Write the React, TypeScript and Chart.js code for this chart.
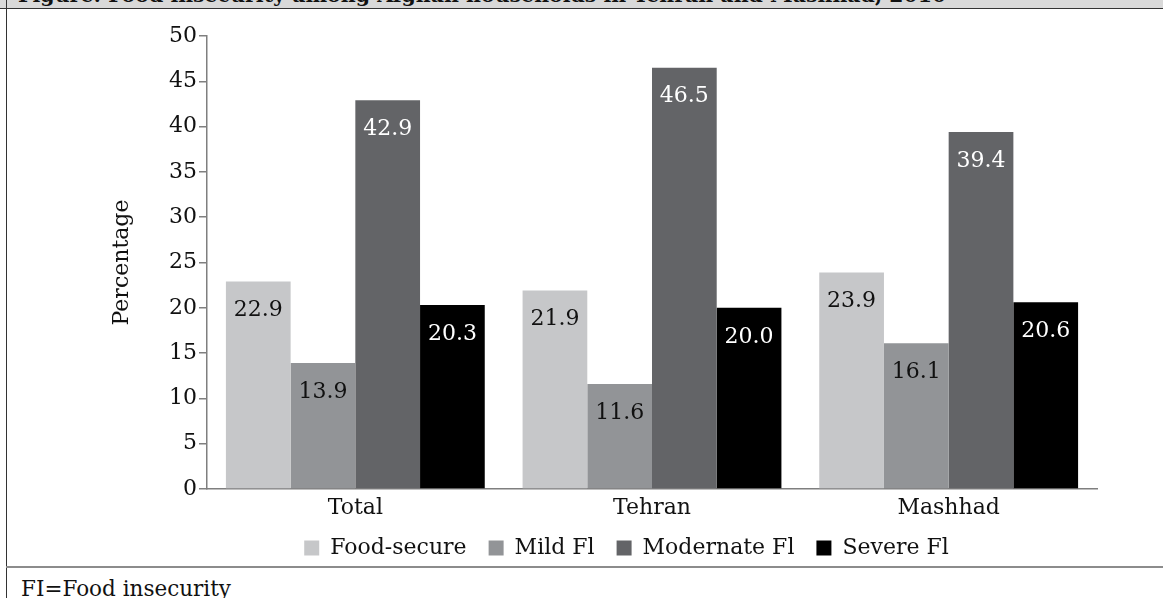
import React, { useEffect, useRef } from "react";
import { Chart, registerables } from "chart.js";

Chart.register(...registerables);

const titleText = "Figure: Food insecurity among Afghan households in Tehran and Mashhad, 2010";
const noteText = "FI=Food insecurity";
const yAxisTitle = "Percentage";

const categories = ["Total", "Tehran", "Mashhad"];
const seriesNames = ["Food-secure", "Mild Fl", "Modernate Fl", "Severe Fl"];
const foodSecure = [22.9, 21.9, 23.9];
const mildFI = [13.9, 11.6, 16.1];
const moderateFI = [42.9, 46.5, 39.4];
const severeFI = [20.3, 20.0, 20.6];
const yMin = 0;
const yMax = 50;
const yStep = 5;

const seriesColors = ["#c6c7c9", "#929497", "#636467", "#000000"];
const labelColors = ["#111111", "#111111", "#ffffff", "#ffffff"];

const FONT = '"DejaVu Serif", serif';

const valueLabels = {
  id: "valueLabels",
  afterDatasetsDraw(chart: any) {
    const ctx = chart.ctx;
    chart.data.datasets.forEach((ds: any, i: number) => {
      const meta = chart.getDatasetMeta(i);
      meta.data.forEach((bar: any, j: number) => {
        const v = ds.data[j] as number;
        ctx.save();
        ctx.font = `22px ${FONT}`;
        ctx.fillStyle = labelColors[i];
        ctx.textAlign = "center";
        ctx.textBaseline = "middle";
        ctx.fillText(v.toFixed(1), bar.x, bar.y + 29);
        ctx.restore();
      });
    });
  },
};

export default function App() {
  const canvasRef = useRef<HTMLCanvasElement | null>(null);

  useEffect(() => {
    if (!canvasRef.current) return;
    const seriesData = [foodSecure, mildFI, moderateFI, severeFI];
    const chart = new Chart(canvasRef.current, {
      type: "bar",
      data: {
        labels: categories,
        datasets: seriesNames.map((name, i) => ({
          label: name,
          data: seriesData[i],
          backgroundColor: seriesColors[i],
          borderWidth: 0,
          categoryPercentage: 0.8725,
          barPercentage: 1.0,
        })),
      },
      options: {
        animation: false,
        responsive: true,
        maintainAspectRatio: false,
        layout: { padding: { top: 27, left: 149, right: 66, bottom: 1 } },
        plugins: {
          legend: {
            position: "bottom",
            labels: {
              boxWidth: 15,
              boxHeight: 15,
              padding: 22,
              color: "#111",
              font: { family: FONT, size: 22 },
            },
          },
          tooltip: { enabled: false },
        },
        scales: {
          x: {
            afterFit: (scale: any) => {
              scale.height = 26;
            },
            grid: { display: true, drawOnChartArea: false, drawTicks: false },
            border: { display: true, color: "#7f7f7f", width: 1.5 },
            ticks: { color: "#111", padding: 6, font: { family: FONT, size: 22 } },
          },
          y: {
            min: yMin,
            max: yMax,
            afterFit: (scale: any) => {
              scale.width = 51;
            },
            ticks: { stepSize: yStep, color: "#111", padding: 2, font: { family: FONT, size: 22 } },
            grid: { drawOnChartArea: false, drawTicks: true, tickLength: 8, color: "#7f7f7f", lineWidth: 1.5 },
            border: { display: true, color: "#7f7f7f", width: 1.5 },
            title: {
              display: true,
              text: yAxisTitle,
              color: "#111",
              font: { family: FONT, size: 22 },
              padding: { top: -47, bottom: 0 },
            },
          },
        },
      },
      plugins: [valueLabels],
    });
    return () => chart.destroy();
  }, []);

  return (
    <div
      style={{
        position: "fixed",
        left: 0,
        top: 0,
        width: 1163,
        height: 598,
        background: "#ffffff",
        overflow: "hidden",
        fontFamily: FONT,
        color: "#111",
      }}
    >
      <div
        style={{
          position: "absolute",
          left: 0,
          top: 0,
          width: 1163,
          height: 8,
          background: "#d9d9d9",
          borderBottom: "1px solid #333",
          overflow: "hidden",
        }}
      >
        <div
          style={{
            position: "absolute",
            left: 18,
            top: -16,
            whiteSpace: "nowrap",
            fontWeight: "bold",
            fontSize: 20.5,
            lineHeight: "22px",
          }}
        >
          {titleText}
        </div>
      </div>
      <div style={{ position: "absolute", left: 6, top: 0, width: 1, height: 598, background: "#333" }} />
      <div style={{ position: "absolute", left: 7, top: 9, width: 1156, height: 561 }}>
        <canvas ref={canvasRef} />
      </div>
      <div style={{ position: "absolute", left: 6, top: 566, width: 1157, height: 2, background: "#8c8c8c" }} />
      <div
        style={{
          position: "absolute",
          left: 21,
          top: 578,
          whiteSpace: "nowrap",
          fontSize: 21.5,
          lineHeight: "22px",
        }}
      >
        {noteText}
      </div>
    </div>
  );
}
